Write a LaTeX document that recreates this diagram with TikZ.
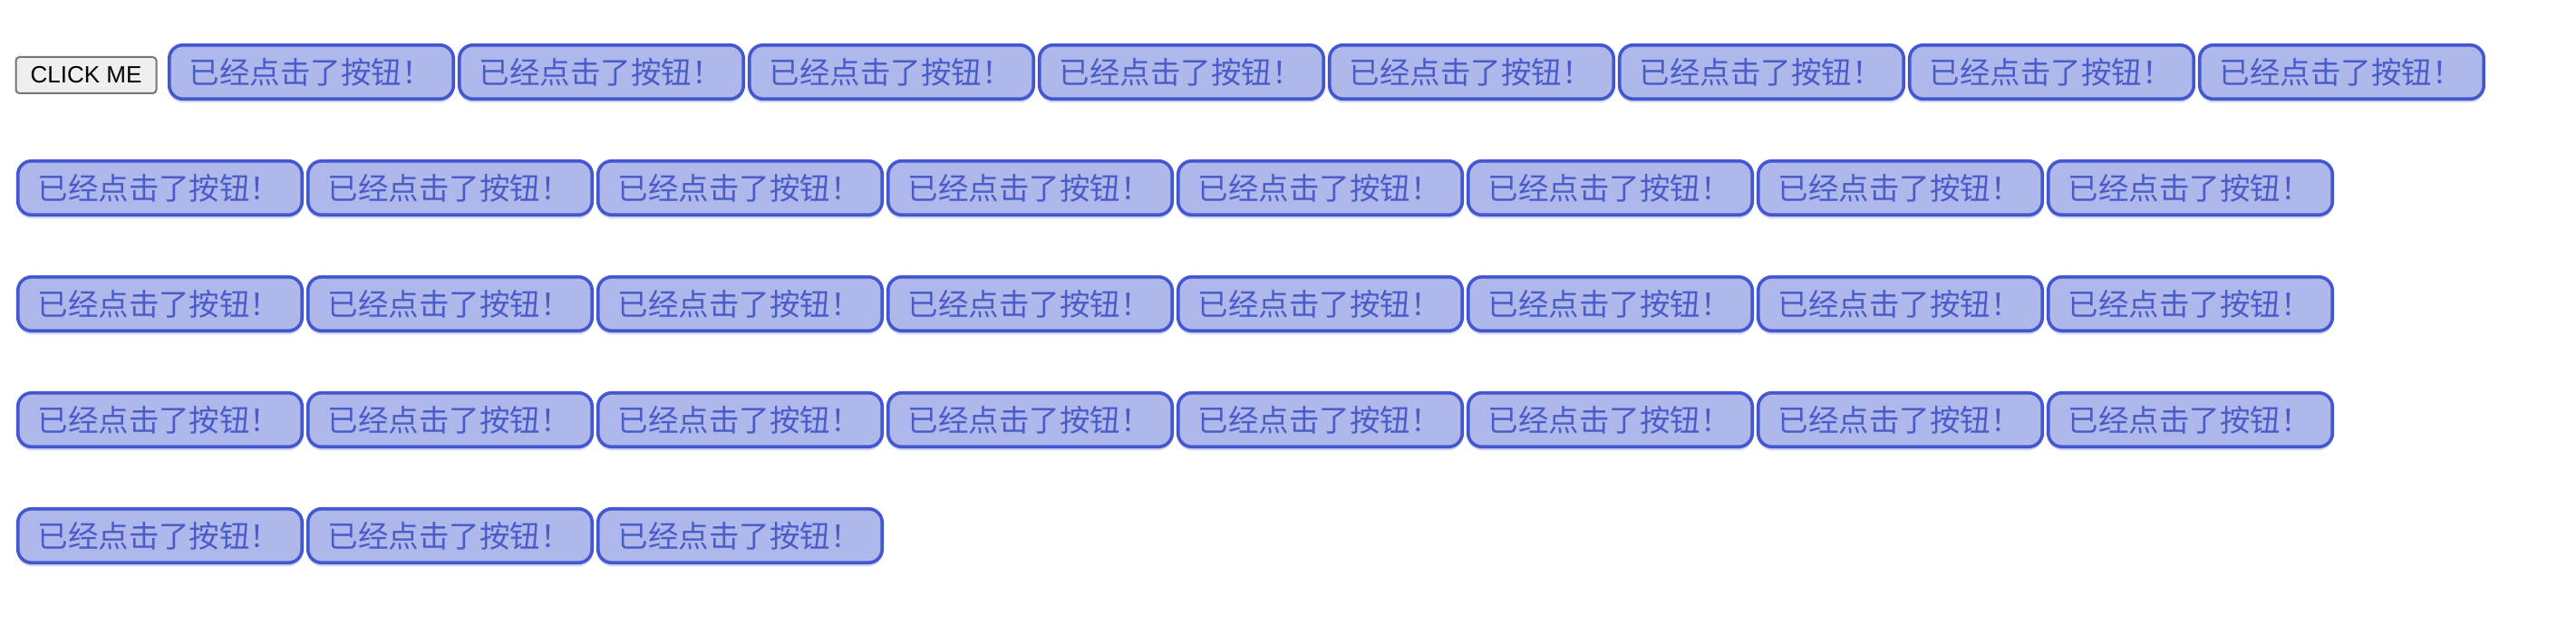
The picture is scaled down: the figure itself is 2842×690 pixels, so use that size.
\documentclass[tikz,border=0pt]{standalone}
\usepackage{fontspec}
\setmainfont{Liberation Sans}
\newfontfamily\cjk{Noto Sans CJK SC}
\usetikzlibrary{shadows}
\definecolor{btnborder}{HTML}{4457D1}
\definecolor{btnfill}{HTML}{AFB8EA}
\definecolor{btntext}{HTML}{4B5BC9}
\definecolor{grayfill}{HTML}{EFEFEF}
\definecolor{grayborder}{HTML}{767676}
\tikzset{
  donebtn/.style={draw=btnborder, fill=btnfill, line width=3.6pt,
    rounded corners=15pt, minimum width=313.5pt, minimum height=59.5pt,
    inner sep=0pt, text=btntext, font=\cjk\fontsize{33.5}{33.5}\selectfont,
    drop shadow={shadow xshift=0pt, shadow yshift=-4pt, opacity=0.22, fill=btnborder}},
  clickbtn/.style={draw=grayborder, fill=grayfill, line width=2pt,
    rounded corners=4pt, minimum width=155pt, minimum height=40pt,
    inner sep=0pt, text=black, font=\fontsize{26}{26}\selectfont}
}
\begin{document}
\begin{tikzpicture}[x=1pt,y=-1pt]
\useasboundingbox[fill=white] (0,0) rectangle (2842,690);
\node[clickbtn] (click) at (95,83) {CLICK ME};
\foreach \c in {0,...,7}{
  \node[donebtn] (r1c\c) at ({343.5+320*\c},79.5) {已经点击了按钮！\hspace*{2pt}};
}
\foreach \r/\yy in {2/207.5,3/335.5,4/463.5}{
  \foreach \c in {0,...,7}{
    \node[donebtn] (r\r c\c) at ({176.5+320*\c},\yy) {已经点击了按钮！\hspace*{2pt}};
  }
}
\foreach \c in {0,...,2}{
  \node[donebtn] (r5c\c) at ({176.5+320*\c},591.5) {已经点击了按钮！\hspace*{2pt}};
}
\end{tikzpicture}
\end{document}
